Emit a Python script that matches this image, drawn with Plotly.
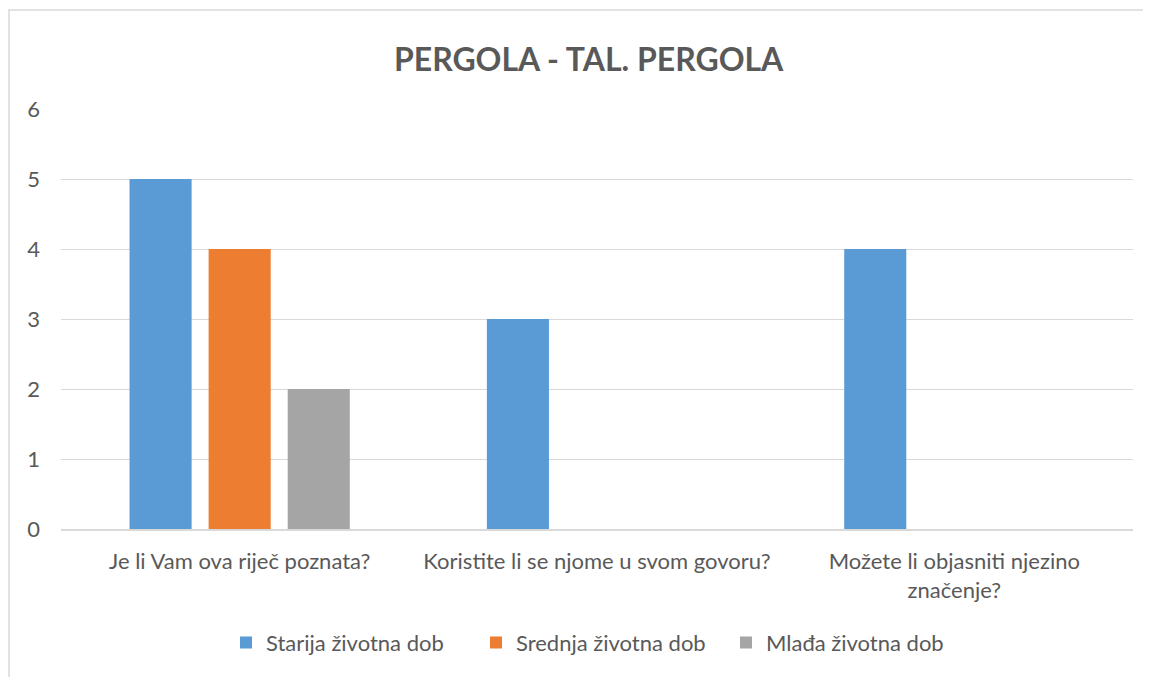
import plotly.graph_objects as go

categories = ["Je li Vam ova riječ poznata?", "Koristite li se njome u svom govoru?", "Možete li objasniti njezino<br>značenje?"]
series_names = ["Starija životna dob", "Srednja životna dob", "Mlađa životna dob"]
starija = [5, 3, 4]
srednja = [4, 0, 0]
mladja = [2, 0, 0]
colors = ["#5B9BD5", "#ED7D31", "#A5A5A5"]
y_ticks = [0, 1, 2, 3, 4, 5, 6]

font_family = "Lato, 'Open Sans', sans-serif"
text_color = "#595959"

fig = go.Figure()
for name, vals, c in zip(series_names, [starija, srednja, mladja], colors):
    fig.add_trace(go.Bar(x=categories, y=vals, name=name, marker_color=c, marker_line_width=0))

fig.update_layout(
    width=1143, height=669,
    margin=dict(l=53, r=18, t=101, b=148),
    paper_bgcolor="white", plot_bgcolor="white",
    barmode="group", bargap=0.336, bargroupgap=0.215,
    title=dict(text="<b>PERGOLA - TAL. PERGOLA</b>", x=0.508, xanchor="center", y=0.923, yanchor="middle",
               font=dict(family=font_family, size=32, color=text_color)),
    font=dict(family=font_family, size=22, color=text_color),
    legend=dict(orientation="h", x=(226 - 61) / 1072, xanchor="left", y=-0.271, yanchor="middle",
                font=dict(size=22, color=text_color), itemwidth=30, entrywidth=205,
                traceorder="normal"),
    showlegend=True,
)
fig.update_xaxes(showgrid=False, showline=True, linecolor="#d9d9d9", linewidth=1.5,
                 ticks="", tickfont=dict(size=22, color=text_color), ticklabelstandoff=12)
fig.update_yaxes(range=[0, 6], tickvals=y_ticks, showgrid=True, gridcolor="#d9d9d9", gridwidth=1.3,
                 zeroline=False, showline=False, ticks="", tickfont=dict(size=22, color=text_color),
                 ticklabelstandoff=20)
fig.add_shape(type="rect", xref="paper", yref="paper",
              x0=(9 - 61) / 1072, x1=1.2, y0=-0.5, y1=(529 - 10) / 420,
              line=dict(color="#d9d9d9", width=1.5), fillcolor="rgba(0,0,0,0)", layer="below")

fig.write_html("out.html")
